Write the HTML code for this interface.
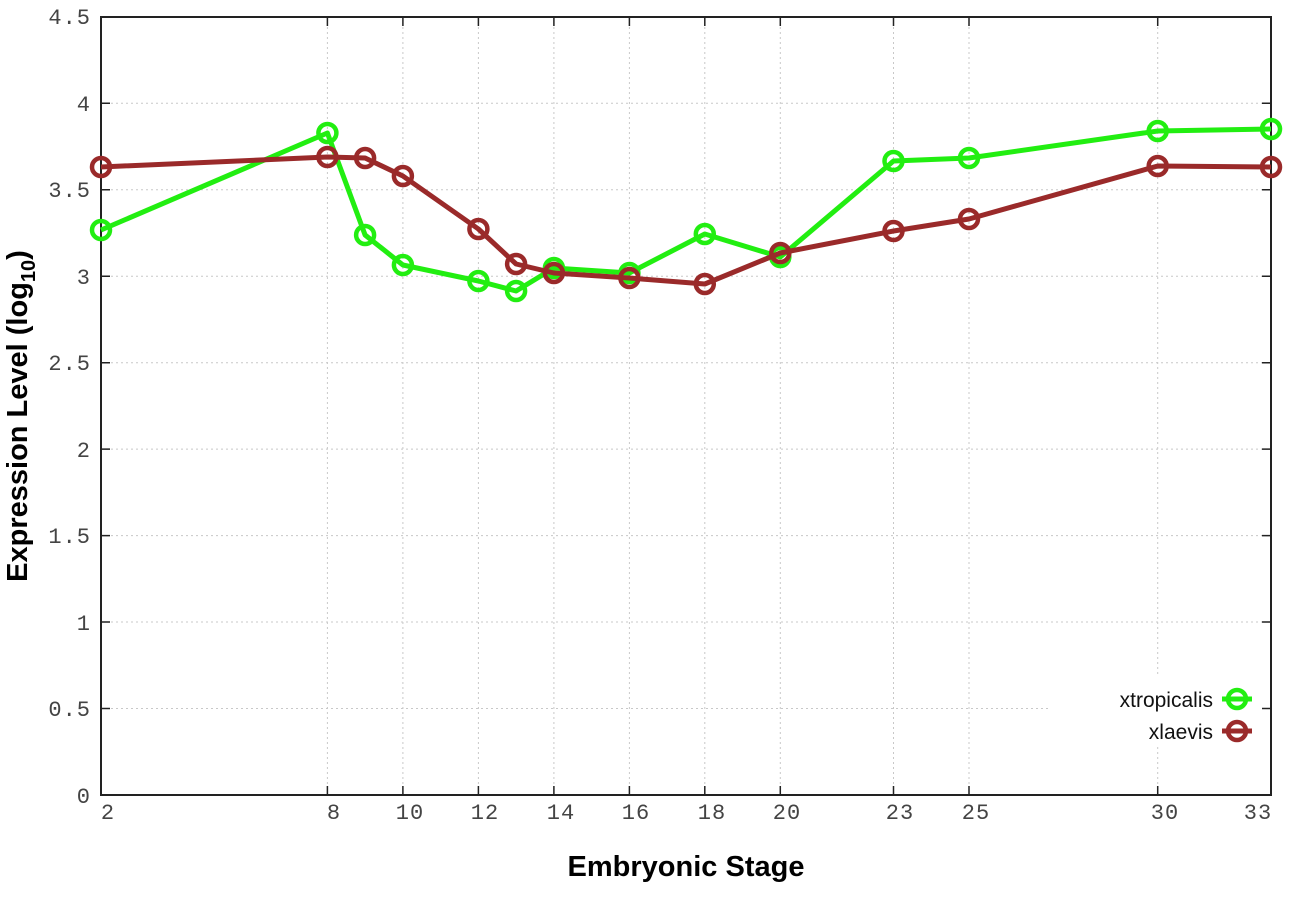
<!DOCTYPE html>
<html><head><meta charset="utf-8"><style>body{margin:0;background:#fff}</style></head>
<body>
<svg width="1296" height="907" xmlns="http://www.w3.org/2000/svg" font-family="Liberation Mono, monospace">
<g stroke="#c8c8c8" stroke-dasharray="2,3" stroke-width="1">
<line x1="101" y1="708.5" x2="1271" y2="708.5"/><line x1="101" y1="622" x2="1271" y2="622"/><line x1="101" y1="535.6" x2="1271" y2="535.6"/><line x1="101" y1="449.1" x2="1271" y2="449.1"/><line x1="101" y1="362.7" x2="1271" y2="362.7"/><line x1="101" y1="276.2" x2="1271" y2="276.2"/><line x1="101" y1="189.8" x2="1271" y2="189.8"/><line x1="101" y1="103.3" x2="1271" y2="103.3"/>
<line x1="327.4" y1="17" x2="327.4" y2="795"/><line x1="402.9" y1="17" x2="402.9" y2="795"/><line x1="478.4" y1="17" x2="478.4" y2="795"/><line x1="553.9" y1="17" x2="553.9" y2="795"/><line x1="629.4" y1="17" x2="629.4" y2="795"/><line x1="704.8" y1="17" x2="704.8" y2="795"/><line x1="780.3" y1="17" x2="780.3" y2="795"/><line x1="893.5" y1="17" x2="893.5" y2="795"/><line x1="969" y1="17" x2="969" y2="795"/><line x1="1157.7" y1="17" x2="1157.7" y2="795"/>
</g>
<rect x="1050" y="675" width="215" height="72" fill="#fff"/>
<rect x="101" y="17" width="1170" height="778" fill="none" stroke="#222" stroke-width="2"/>
<g stroke="#222" stroke-width="1.5">
<path d="M101 708.5h9M101 622h9M101 535.6h9M101 449.1h9M101 362.7h9M101 276.2h9M101 189.8h9M101 103.3h9M1271 708.5h-9M1271 622h-9M1271 535.6h-9M1271 449.1h-9M1271 362.7h-9M1271 276.2h-9M1271 189.8h-9M1271 103.3h-9"/>
<path d="M327.4 795v-9M402.9 795v-9M478.4 795v-9M553.9 795v-9M629.4 795v-9M704.8 795v-9M780.3 795v-9M893.5 795v-9M969 795v-9M1157.7 795v-9M327.4 17v9M402.9 17v9M478.4 17v9M553.9 17v9M629.4 17v9M704.8 17v9M780.3 17v9M893.5 17v9M969 17v9M1157.7 17v9"/>
</g>
<g font-size="22" fill="#444" text-anchor="end" letter-spacing="1">
<text x="91" y="803">0</text><text x="91" y="716">0.5</text><text x="91" y="630">1</text><text x="91" y="543">1.5</text><text x="91" y="457">2</text><text x="91" y="370">2.5</text><text x="91" y="284">3</text><text x="91" y="197">3.5</text><text x="91" y="111">4</text><text x="91" y="24">4.5</text>
</g>
<g font-size="22" fill="#444" text-anchor="middle" letter-spacing="1">
<text x="108" y="819">2</text><text x="334" y="819">8</text><text x="410" y="819">10</text><text x="485" y="819">12</text><text x="561" y="819">14</text><text x="636" y="819">16</text><text x="712" y="819">18</text><text x="787" y="819">20</text><text x="900" y="819">23</text><text x="976" y="819">25</text><text x="1165" y="819">30</text><text x="1258" y="819">33</text>
</g>
<text x="686" y="876" text-anchor="middle" font-family="Liberation Sans, sans-serif" font-weight="bold" font-size="29">Embryonic Stage</text>
<text transform="translate(27,416) rotate(-90)" text-anchor="middle" font-family="Liberation Sans, sans-serif" font-weight="bold" font-size="29">Expression Level (log<tspan font-size="20" dy="8">10</tspan><tspan dy="-8">)</tspan></text>
<g fill="none" stroke-width="5" stroke-linejoin="round">
<polyline stroke="#22ee11" points="101,230 327.4,133 365.1,235 402.9,265 478.4,281 516.1,291 553.9,268 629.4,273 704.8,234 780.3,257 893.5,161 969,158 1157.7,131 1271,129"/>
<g stroke="#22ee11" stroke-width="4.5"><circle cx="101" cy="230" r="9"/><circle cx="327.4" cy="133" r="9"/><circle cx="365.1" cy="235" r="9"/><circle cx="402.9" cy="265" r="9"/><circle cx="478.4" cy="281" r="9"/><circle cx="516.1" cy="291" r="9"/><circle cx="553.9" cy="268" r="9"/><circle cx="629.4" cy="273" r="9"/><circle cx="704.8" cy="234" r="9"/><circle cx="780.3" cy="257" r="9"/><circle cx="893.5" cy="161" r="9"/><circle cx="969" cy="158" r="9"/><circle cx="1157.7" cy="131" r="9"/><circle cx="1271" cy="129" r="9"/></g>
<polyline stroke="#9a2a2a" points="101,167 327.4,157 365.1,158 402.9,176 478.4,229 516.1,264 553.9,273 629.4,278 704.8,284 780.3,253 893.5,231 969,219 1157.7,166 1271,167"/>
<g stroke="#9a2a2a" stroke-width="4.5"><circle cx="101" cy="167" r="9"/><circle cx="327.4" cy="157" r="9"/><circle cx="365.1" cy="158" r="9"/><circle cx="402.9" cy="176" r="9"/><circle cx="478.4" cy="229" r="9"/><circle cx="516.1" cy="264" r="9"/><circle cx="553.9" cy="273" r="9"/><circle cx="629.4" cy="278" r="9"/><circle cx="704.8" cy="284" r="9"/><circle cx="780.3" cy="253" r="9"/><circle cx="893.5" cy="231" r="9"/><circle cx="969" cy="219" r="9"/><circle cx="1157.7" cy="166" r="9"/><circle cx="1271" cy="167" r="9"/></g>
<line x1="1222" y1="699" x2="1252" y2="699" stroke="#22ee11"/><circle cx="1237" cy="699" r="9" stroke="#22ee11" stroke-width="4.5"/>
<line x1="1222" y1="731" x2="1252" y2="731" stroke="#9a2a2a"/><circle cx="1237" cy="731" r="9" stroke="#9a2a2a" stroke-width="4.5"/>
</g>
<g font-family="Liberation Sans, sans-serif" font-size="21" fill="#111" text-anchor="end">
<text x="1213" y="707">xtropicalis</text><text x="1213" y="739">xlaevis</text>
</g>
</svg>
</body></html>
